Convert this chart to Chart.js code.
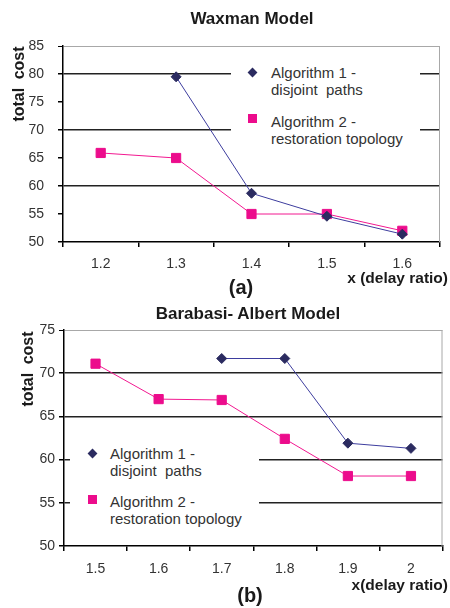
<!DOCTYPE html>
<html lang="en">
<head>
    <meta charset="UTF-8">
    <title>Total cost vs delay ratio</title>
    <style>
        body {
            margin: 0;
            background: #fff;
            font-family: "Liberation Sans", Arial, sans-serif;
        }
        #page {
            position: relative;
            width: 450px;
            height: 608px;
            overflow: hidden;
        }
        canvas {
            position: absolute;
            left: 0;
        }
        .txt {
            position: absolute;
            font-weight: bold;
            color: #1a1a1a;
            white-space: pre;
            line-height: 1;
            transform: translate(-50%, -50%);
        }
        .legend {
            position: absolute;
            background: #fff;
            color: #333;
            font-size: 15px;
            line-height: 17px;
        }
        .item {
            position: absolute;
            left: 40px;
            white-space: pre;
        }
        .mk {
            position: absolute;
        }
    </style>
</head>
<body>
<div id="page">
    <canvas id="waxChart" width="450" height="300" style="top:0"></canvas>
    <canvas id="baChart" width="450" height="308" style="top:300px"></canvas>

    <div class="txt" style="left:252px; top:18px; font-size:17px;">Waxman Model</div>
    <div class="txt" style="left:19px; top:84px; font-size:16px; word-spacing:4px; transform:translate(-50%,-50%) rotate(-90deg);">total cost</div>
    <div class="txt" style="left:448px; top:278px; font-size:15.5px; transform:translate(-100%,-50%);">x (delay ratio)</div>
    <div class="txt" style="left:241px; top:287px; font-size:20px;">(a)</div>

    <div class="txt" style="left:248px; top:313px; font-size:17px;">Barabasi- Albert Model</div>
    <div class="txt" style="left:28px; top:369px; font-size:16px; word-spacing:4px; transform:translate(-50%,-50%) rotate(-90deg);">total cost</div>
    <div class="txt" style="left:448px; top:585px; font-size:15.5px; transform:translate(-100%,-50%);">x(delay ratio)</div>
    <div class="txt" style="left:250px; top:595px; font-size:20px;">(b)</div>

    <div id="waxLegend" class="legend" style="left:231px; top:58px; width:189px; height:90px;"></div>
    <div id="baLegend" class="legend" style="left:70px; top:438px; width:189px; height:92px;"></div>
</div>

<script src="https://cdn.jsdelivr.net/npm/chart.js"></script>
<script>
    // (a) Waxman model
    const waxDelay = ['1.2', '1.3', '1.4', '1.5', '1.6'];
    const waxAlg1 = [null, 79.5, 58.7, 54.6, 51.4];
    const waxAlg2 = [65.9, 65.0, 55.0, 55.0, 52.0];
    const waxGrid = [60, 70, 80];

    // (b) Barabasi-Albert model
    const baDelay = ['1.5', '1.6', '1.7', '1.8', '1.9', '2'];
    const baAlg1 = [null, null, 71.7, 71.7, 61.9, 61.3];
    const baAlg2 = [71.1, 67.0, 66.9, 62.4, 58.1, 58.1];
    const baGrid = [55, 60, 65, 70];

    const alg1Name = ['Algorithm 1 -', 'disjoint  paths'];
    const alg2Name = ['Algorithm 2 -', 'restoration topology'];

    Chart.defaults.font.family = '"Liberation Sans", Arial, sans-serif';

    // grey frame on the right side of the plot
    const frame = {
        id: 'frame',
        afterDraw(chart) {
            const a = chart.chartArea;
            const ctx = chart.ctx;
            ctx.save();
            ctx.strokeStyle = '#a8a8a8';
            ctx.lineWidth = 1;
            ctx.beginPath();
            ctx.moveTo(a.right - 0.5, a.top);
            ctx.lineTo(a.right - 0.5, a.bottom);
            ctx.stroke();
            ctx.restore();
        }
    };

    function makeChart(id, labels, s1, s2, yMin, yMax, gridAt, box) {
        return new Chart(document.getElementById(id), {
            type: 'line',
            data: {
                labels: labels,
                datasets: [{
                    label: alg1Name,
                    data: s1,
                    borderColor: '#3d3d9e',
                    borderWidth: 1,
                    pointStyle: 'rectRot',
                    pointRadius: 5,
                    pointBackgroundColor: '#2b2b60',
                    pointBorderColor: '#2b2b60',
                    pointBorderWidth: 1,
                    tension: 0
                }, {
                    label: alg2Name,
                    data: s2,
                    borderColor: '#f21890',
                    borderWidth: 1,
                    pointStyle: 'rect',
                    pointRadius: 6.5,
                    pointBackgroundColor: '#ec0c8c',
                    pointBorderColor: '#ec0c8c',
                    pointBorderWidth: 1,
                    tension: 0
                }]
            },
            options: {
                responsive: false,
                animation: false,
                events: [],
                layout: { padding: { left: 0, top: box.top, right: box.right, bottom: 0 } },
                plugins: {
                    legend: { display: false },
                    tooltip: { enabled: false }
                },
                scales: {
                    x: {
                        offset: true,
                        grid: { offset: true, color: 'transparent', tickColor: '#000', tickLength: 5, lineWidth: 1.5 },
                        border: { color: '#000', width: 1.5 },
                        ticks: { color: '#333', font: { size: 14 }, padding: box.xPad, maxRotation: 0 },
                        afterFit: s => { s.height = box.xh; }
                    },
                    y: {
                        min: yMin,
                        max: yMax,
                        ticks: { stepSize: 5, color: '#333', font: { size: 14 }, padding: box.yPad },
                        grid: {
                            color: c => {
                                if (!c.tick) return 'transparent';
                                if (c.tick.value === yMax) return '#a8a8a8';
                                return gridAt.includes(c.tick.value) ? '#222' : 'transparent';
                            },
                            lineWidth: c => (c.tick && c.tick.value === yMax) ? 1 : 1.5,
                            tickColor: '#000',
                            tickLength: 5
                        },
                        border: { color: '#000', width: 1.5 },
                        afterFit: s => { s.width = box.yw; }
                    }
                }
            },
            plugins: [frame]
        });
    }

    function buildLegend(el, chart, items) {
        chart.data.datasets.forEach((ds, i) => {
            const it = items[i];
            const mk = document.createElement('div');
            mk.className = 'mk';
            if (ds.pointStyle === 'rectRot') {
                mk.style.cssText = `left:${it.mx - 3.5}px; top:${it.my - 3.5}px; width:7px; height:7px; background:${ds.pointBackgroundColor}; transform:rotate(45deg);`;
            } else {
                mk.style.cssText = `left:${it.mx - 4.5}px; top:${it.my - 4.5}px; width:9px; height:9px; background:${ds.pointBackgroundColor};`;
            }
            el.appendChild(mk);
            const tx = document.createElement('div');
            tx.className = 'item';
            tx.style.top = it.ty + 'px';
            tx.textContent = ds.label.join('\n');
            el.appendChild(tx);
        });
    }

    const wax = makeChart('waxChart', waxDelay, waxAlg1, waxAlg2, 50, 85, waxGrid,
        { top: 46, right: 10, yw: 63, xh: 58, xPad: 9, yPad: 14 });
    const ba = makeChart('baChart', baDelay, baAlg1, baAlg2, 50, 75, baGrid,
        { top: 30, right: 2, yw: 64, xh: 62, xPad: 10, yPad: 4 });

    buildLegend(document.getElementById('waxLegend'), wax, [
        { mx: 21, my: 14, ty: 5.5 },
        { mx: 21, my: 60, ty: 55 }
    ]);
    buildLegend(document.getElementById('baLegend'), ba, [
        { mx: 22, my: 15, ty: 6.5 },
        { mx: 22, my: 61, ty: 55 }
    ]);
</script>
</body>
</html>
